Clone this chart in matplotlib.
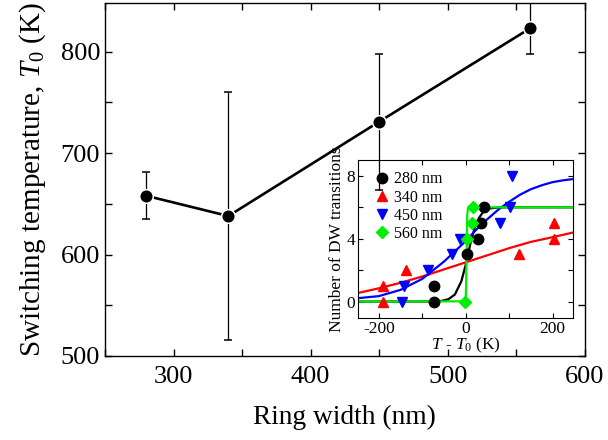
import matplotlib
matplotlib.use("Agg")
import matplotlib.pyplot as plt
from matplotlib.ticker import MultipleLocator

plt.rcParams['font.family'] = ['Liberation Serif', 'DejaVu Serif']
plt.rcParams['mathtext.fontset'] = 'custom'
plt.rcParams['mathtext.rm'] = 'Liberation Serif'
plt.rcParams['mathtext.it'] = 'Liberation Serif:italic'
plt.rcParams['axes.unicode_minus'] = False

# main panel: switching temperature vs ring width
ring_width = [280, 340, 450, 560]
t_switch = [658, 638, 731, 823]
t_err = [23, 122, 67, 25]

# inset: number of DW transitions vs T - T0
widths = ['280 nm', '340 nm', '450 nm', '560 nm']
colors = ['black', 'red', 'blue', '#00ee00']
markers = ['o', '^', 'v', 'D']

pts_x = [
    [-72, -72, 4, 28, 36, 42],
    [-190, -190, -138, 122, 203, 203],
    [-146, -142, -88, -32, -14, 80, 102, 106],
    [-2, 3, 14, 17],
]
pts_y = [
    [0, 1, 3, 4, 5, 6],
    [0, 1, 2, 3, 4, 5],
    [0, 1, 2, 3, 4, 5, 6, 8],
    [0, 4, 5, 6],
]

# fitted curves
fit_x = [
    [-248, -70, -55, -40, -25, -10, 0, 10, 20, 30, 40, 55, 80, 248],
    [-248, -200, -150, -100, -50, 0, 50, 100, 150, 200, 248],
    [-248, -200, -150, -100, -50, 0, 25, 50, 75, 100, 125, 150, 175, 200, 225, 248],
    [-248, -0.5, 0.5, 2, 3.5, 5, 8, 248],
]
fit_y = [
    [0, 0.01, 0.05, 0.15, 0.45, 1.3, 2.35, 3.6, 4.65, 5.3, 5.7, 5.93, 6.0, 6.0],
    [0.55, 0.85, 1.2, 1.6, 2.05, 2.5, 2.95, 3.4, 3.8, 4.1, 4.4],
    [0.22, 0.35, 0.75, 1.45, 2.55, 3.85, 4.6, 5.25, 5.85, 6.35, 6.8, 7.15, 7.4, 7.6, 7.72, 7.8],
    [0, 0.02, 0.5, 3.0, 5.5, 5.9, 6.0, 6.0],
]

fig = plt.figure(figsize=(6.08, 4.40), dpi=100)
ax = fig.add_axes([0.1727, 0.191, 0.789, 0.802])
ax.set_facecolor('none')
ax.set_zorder(2)

ax.errorbar(ring_width, t_switch, yerr=t_err, color='black', lw=1.9,
            marker='o', ms=9.8, mfc='black', mec='white', mew=1.1,
            ecolor='black', elinewidth=0.9, capsize=3.2, capthick=0.9)
ax.set_xlim(250, 600)
ax.set_ylim(500, 848)
ax.xaxis.set_major_locator(MultipleLocator(100))
ax.xaxis.set_minor_locator(MultipleLocator(50))
ax.yaxis.set_major_locator(MultipleLocator(100))
ax.yaxis.set_minor_locator(MultipleLocator(50))
ax.tick_params(which='both', direction='in', top=True, right=True,
               length=5, width=1, labelsize=19)
ax.tick_params(axis='x', pad=7)
ax.set_xlabel('Ring width (nm)', fontsize=19.8, labelpad=12)
ax.set_ylabel('Switching temperature, $T_0$ (K)', fontsize=21, labelpad=9)
for s in ax.spines.values():
    s.set_linewidth(1)

ins = fig.add_axes([0.589, 0.277, 0.354, 0.359])
ins.set_zorder(1)
ins.set_facecolor('white')
for i in range(4):
    ins.plot(fit_x[i], fit_y[i], color=colors[i], lw=1.6, zorder=2)
for i in range(4):
    ins.plot(pts_x[i], pts_y[i], linestyle='none', marker=markers[i],
             color=colors[i], ms=7.5 if markers[i] != 'D' else 6.5,
             label=widths[i], zorder=3)
ins.set_xlim(-248, 248)
ins.set_ylim(-1.05, 9)
ins.xaxis.set_major_locator(MultipleLocator(200))
ins.xaxis.set_minor_locator(MultipleLocator(100))
ins.yaxis.set_major_locator(MultipleLocator(4))
ins.yaxis.set_minor_locator(MultipleLocator(2))
ins.tick_params(which='both', direction='in', top=True, right=True,
                length=3.5, width=0.8, labelsize=12.5, pad=2)
ins.set_xlabel('$T$ - $T_0$ (K)', fontsize=12.5, labelpad=-1)
ins.set_ylabel('Number of DW transitions', fontsize=12.5, labelpad=1)
ins.legend(loc='upper left', bbox_to_anchor=(0.02, 0.99), frameon=False,
           fontsize=11.5, handletextpad=0.2, labelspacing=0.14,
           handlelength=1.2, borderaxespad=0.2)

fig.savefig('out.png', dpi=100)
